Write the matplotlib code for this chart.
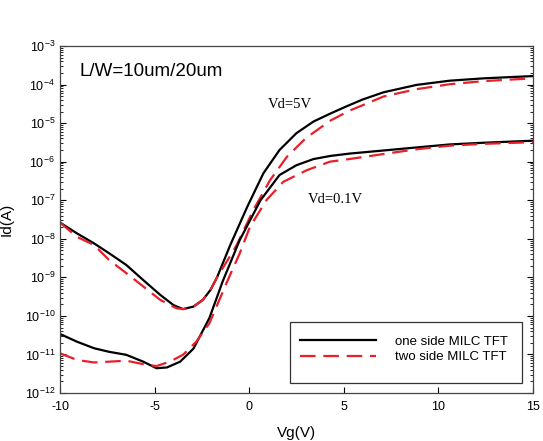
import matplotlib
matplotlib.use("Agg")
import matplotlib.pyplot as plt
from matplotlib.patches import Rectangle
from matplotlib.ticker import LogLocator, NullFormatter

plt.rcParams['font.family'] = ['Liberation Sans', 'DejaVu Sans']
plt.rcParams['mathtext.default'] = 'regular'
plt.rcParams['axes.unicode_minus'] = False

# Vd = 5V
vg_one_5 = [-10, -9.1, -8.2, -7.4, -6.5, -5.6, -4.7, -4.0, -3.5, -2.95, -2.45, -2.05, -1.7, -1.0,
            -0.1, 0.75, 1.6, 2.5, 3.4, 4.3, 5.2, 6.0, 7.1, 8.85, 10.6, 12.4, 15]
id_one_5 = [2.63e-8, 1.38e-8, 7.6e-9, 4.2e-9, 2.1e-9, 8.5e-10, 3.5e-10, 1.9e-10, 1.5e-10, 1.74e-10,
            2.6e-10, 4.7e-10, 1.0e-9, 6.9e-9, 6.8e-8, 5.0e-7, 2.0e-6, 5.5e-6, 1.1e-5, 1.78e-5,
            2.8e-5, 4.1e-5, 6.3e-5, 9.8e-5, 1.26e-4, 1.45e-4, 1.66e-4]
vg_two_5 = [-10, -9.1, -8.2, -7.4, -6.5, -5.6, -4.7, -3.85, -3.5, -2.95, -2.45, -2.05, -1.7, -1.2,
            -0.66, 0.22, 1.1, 2.0, 3.0, 4.3, 5.3, 7.1, 8.85, 10.6, 12.4, 15]
id_two_5 = [2.63e-8, 1.12e-8, 6.9e-9, 2.8e-9, 1.29e-9, 5.8e-10, 2.6e-10, 1.58e-10, 1.5e-10, 1.74e-10,
            2.6e-10, 4.7e-10, 1.0e-9, 2.5e-9, 6.9e-9, 5.6e-8, 3.3e-7, 1.35e-6, 4.1e-6, 1.17e-5,
            2.1e-5, 4.9e-5, 7.6e-5, 1.02e-4, 1.23e-4, 1.45e-4]

# Vd = 0.1V
vg_one_01 = [-10, -9.1, -8.2, -7.4, -6.5, -5.6, -4.9, -4.35, -3.65, -2.95, -2.1, -1.4, -0.5, 0.6,
             1.6, 2.5, 3.4, 4.3, 5.3, 7.1, 8.85, 10.6, 12.4, 15]
id_one_01 = [3.4e-11, 2.14e-11, 1.45e-11, 1.17e-11, 9.8e-12, 6.5e-12, 4.4e-12, 4.6e-12, 6.5e-12,
             1.41e-11, 8.9e-11, 7.9e-10, 9.3e-9, 1.0e-7, 4.5e-7, 8.1e-7, 1.17e-6, 1.41e-6, 1.62e-6,
             1.95e-6, 2.34e-6, 2.8e-6, 3.1e-6, 3.5e-6]
vg_two_01 = [-10, -9.1, -8.2, -7.4, -6.5, -5.6, -4.9, -4.2, -3.5, -2.8, -2.1, -1.2, -0.5, 0.04,
             0.92, 1.8, 3.04, 4.27, 5.3, 7.1, 8.85, 10.6, 12.4, 15]
id_two_01 = [1.07e-11, 7.2e-12, 6.2e-12, 6.5e-12, 6.9e-12, 5.6e-12, 5.0e-12, 6.5e-12, 9.8e-12,
             2.14e-11, 6.5e-11, 7.1e-10, 4.2e-9, 2.04e-8, 1.02e-7, 3.0e-7, 6.0e-7, 1.0e-6, 1.17e-6,
             1.58e-6, 2.1e-6, 2.6e-6, 2.9e-6, 3.2e-6]

fig = plt.figure(figsize=(5.43, 4.41), dpi=100)
ax = fig.add_axes([0.1105, 0.1088, 0.8711, 0.7869])

red = '#e8202a'
dash = (7, 3.5)
ax.plot(vg_one_5, id_one_5, color='black', lw=1.6, label='one side MILC TFT')
ax.plot(vg_two_5, id_two_5, color=red, lw=1.6, dashes=dash, label='two side MILC TFT')
ax.plot(vg_one_01, id_one_01, color='black', lw=1.6)
ax.plot(vg_two_01, id_two_01, color=red, lw=1.6, dashes=dash)

ax.set_yscale('log')
ax.set_xlim(-10, 15)
ax.set_ylim(1e-12, 1e-3)
ax.set_xticks([-10, -5, 0, 5, 10, 15])
ax.yaxis.set_major_locator(LogLocator(base=10, numticks=20))
ax.yaxis.set_minor_locator(LogLocator(base=10, subs=range(2, 10), numticks=20))
ax.yaxis.set_minor_formatter(NullFormatter())

ax.tick_params(axis='x', direction='in', length=4, labelsize=9, pad=6, top=False)
ax.tick_params(axis='y', which='major', direction='in', length=4, labelsize=9, right=True)
ax.tick_params(axis='y', which='minor', direction='in', length=2, right=True)
for s in ax.spines.values():
    s.set_color('#444444')
    s.set_linewidth(0.9)

ax.set_xlabel('Vg(V)', fontsize=11, labelpad=9)
ax.set_ylabel('Id(A)', fontsize=11)
ax.yaxis.set_label_coords(-0.098, 0.5)

ax.text(0.042, 0.927, 'L/W=10um/20um', transform=ax.transAxes, fontsize=13.5, va='center')
ax.text(1.0, 10**-4.53, 'Vd=5V', family='Liberation Serif', fontsize=10.5, va='center')
ax.text(3.1, 10**-6.97, 'Vd=0.1V', family='Liberation Serif', fontsize=10.5, va='center')

ax.add_patch(Rectangle((0.486, 0.0288), 0.4905, 0.1758, transform=ax.transAxes,
                       facecolor='white', edgecolor='#333333', lw=0.9, zorder=4))
leg = ax.legend(loc='upper left', bbox_to_anchor=(0.507, 0.166), fontsize=9.5,
                handlelength=5.8, frameon=False, borderpad=0, borderaxespad=0,
                labelspacing=0.25, handletextpad=1.4)
leg.set_zorder(5)

fig.savefig('out.png', dpi=100)
